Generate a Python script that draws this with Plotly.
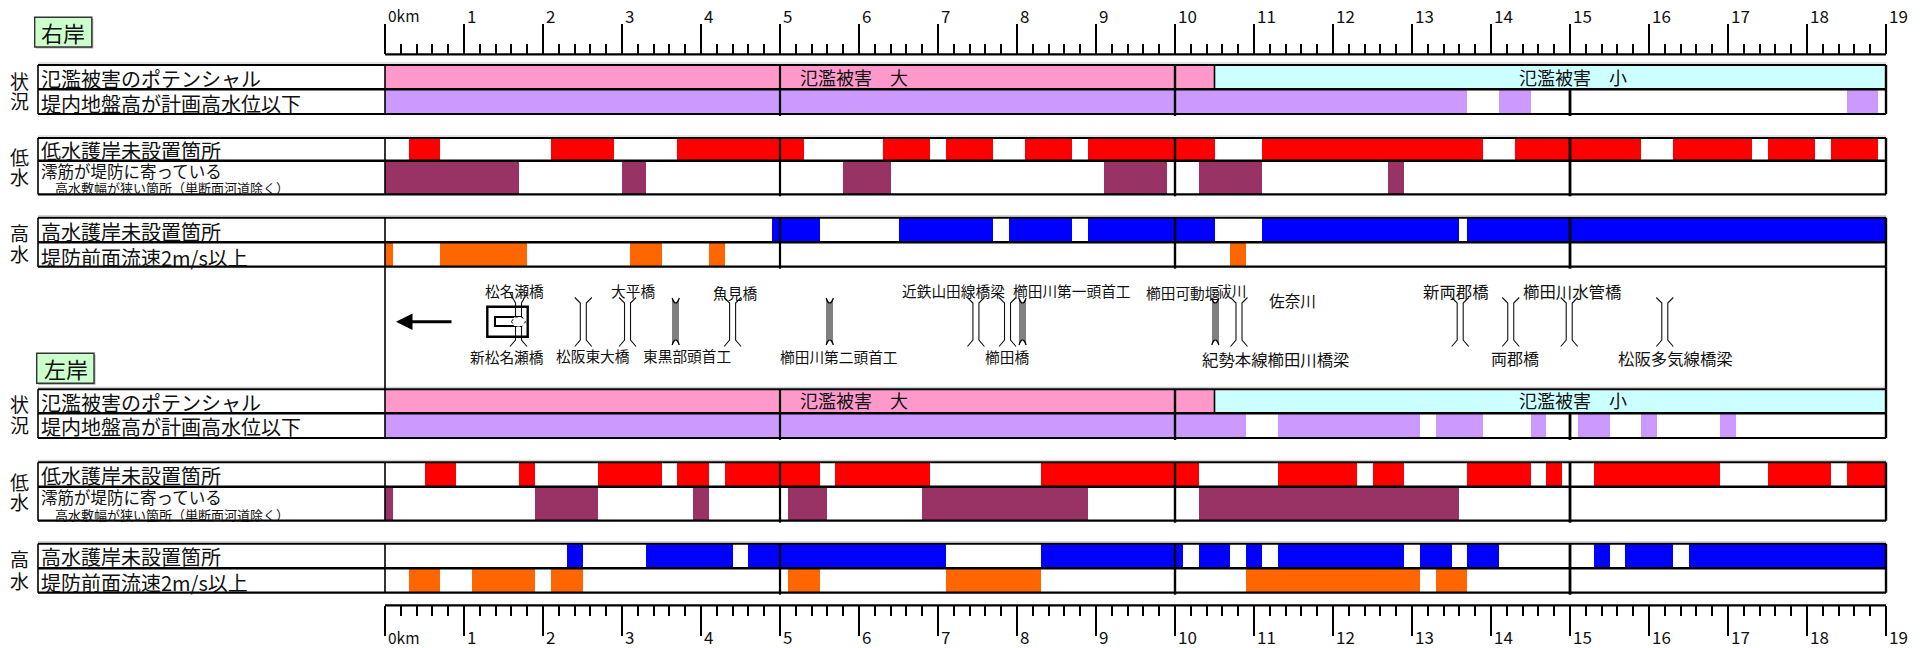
# Kushida river - levee condition strip chart (right bank / left bank)

import plotly.graph_objs as go

# ---- km intervals ----
R_POTENTIAL_BIG = [[0, 10.5]]
R_POTENTIAL_SMALL = [[10.5, 19]]
R_GROUND = [[0, 13.7], [14.1, 14.5], [18.5, 18.9]]
R_LOW_REVET = [[0.3, 0.7], [2.1, 2.9], [3.7, 5.3], [6.3, 6.9], [7.1, 7.7], [8.1, 8.7],
               [8.9, 10.5], [11.1, 13.9], [14.3, 15.9], [16.3, 17.3], [17.5, 18.1], [18.3, 18.9]]
R_CHANNEL = [[0, 1.7], [3.0, 3.3], [5.8, 6.4], [9.1, 9.9], [10.3, 11.1], [12.7, 12.9]]
R_HIGH_REVET = [[4.9, 5.5], [6.5, 7.7], [7.9, 8.7], [8.9, 10.5], [11.1, 13.6], [13.7, 19]]
R_VELOCITY = [[0, 0.1], [0.7, 1.8], [3.1, 3.5], [4.1, 4.3], [10.7, 10.9]]

L_POTENTIAL_BIG = [[0, 10.5]]
L_POTENTIAL_SMALL = [[10.5, 19]]
L_GROUND = [[0, 10.9], [11.3, 13.1], [13.3, 13.9], [14.5, 14.7], [15.1, 15.5], [15.9, 16.1], [16.9, 17.1]]
L_LOW_REVET = [[0.5, 0.9], [1.7, 1.9], [2.7, 3.5], [3.7, 4.1], [4.3, 5.5], [5.7, 6.9], [8.3, 10.3],
               [11.3, 12.3], [12.5, 12.9], [13.7, 14.5], [14.7, 14.9], [15.3, 16.9], [17.5, 18.3], [18.5, 19]]
L_CHANNEL = [[0, 0.1], [1.9, 2.7], [3.9, 4.1], [5.1, 5.6], [6.8, 8.9], [10.3, 13.6]]
L_HIGH_REVET = [[2.3, 2.5], [3.3, 4.4], [4.6, 7.1], [8.3, 10.1], [10.3, 10.7], [10.9, 11.1], [11.3, 12.9],
                [13.1, 13.5], [13.7, 14.1], [15.3, 15.5], [15.7, 16.3], [16.5, 19]]
L_VELOCITY = [[0.3, 0.7], [1.1, 1.9], [2.1, 2.5], [5.1, 5.5], [7.1, 8.3], [10.9, 13.1], [13.3, 13.7]]

MAJOR_TICKS = list(range(20))
MINOR_TICKS = [i / 5 for i in range(96) if i % 5 != 0]
TICK_TEXT = ["0km"] + [str(i) for i in range(1, 20)]

BRIDGE_KM = [1.69, 2.51, 3.07, 4.40, 7.48, 7.88, 10.81, 13.61, 14.25, 14.99, 16.20]
WEIR_KM = [3.68, 5.63, 8.07, 10.51]

BRIDGE_NAMES = ["松名瀬橋", "新松名瀬橋", "松阪東大橋", "大平橋", "魚見橋", "東黒部頭首工", "櫛田川第二頭首工",
                "近鉄山田線橋梁", "櫛田川第一頭首工", "櫛田橋", "櫛田可動堰", "祓川", "佐奈川", "紀勢本線櫛田川橋梁",
                "新両郡橋", "両郡橋", "櫛田川水管橋", "松阪多気線橋梁"]
BRIDGE_NAME_X = [514, 506.5, 592.5, 633, 735, 686.5, 839, 953.7, 1071.5, 1007.3, 1183.3, 1231.5, 1292, 1276,
                 1455.5, 1515, 1571.5, 1675]
BRIDGE_NAME_Y = [290, 356.7, 355.7, 290.7, 292.3, 355.7, 356, 290, 290, 356.7, 292.3, 290, 300, 359,
                 290.7, 358, 290.7, 357.7]
BRIDGE_NAME_SIZE = [14.7] * 12 + [15.7, 16.4, 16.4, 16, 16.4, 16.4]

PINK = "#FF99CC"
CYAN = "#CCFFFF"
PURPLE = "#CC99FF"
RED = "#FF0000"
PLUM = "#993366"
BLUE = "#0000FF"
ORANGE = "#FF6600"
FONT = "Noto Sans CJK JP"

# the page keeps its default 8px body margin, so the axes cover 8..1926 and 8..648 of the picture
W, H = 1926, 648
BODY = 8
# picture pixels -> km, ruler runs 0km=385px, 79px per km
PX0, PX_KM = 385, 79


def km(px):
    return (px - PX0) / PX_KM


def y_pos(px):
    return 1 - (px - BODY) / (H - BODY)


# (top, middle, bottom) pixels of the six framed bands
BANDS = [(65, 89.3, 114), (138, 160.7, 194.3), (217.7, 242.3, 266.7),
         (389.3, 413.3, 438), (462.3, 486.7, 520.7), (543.7, 568.3, 592.7)]

fig = go.Figure()


def add_row(intervals, y0, y1, color, axis="x"):
    fig.add_trace(go.Bar(
        orientation="h",
        base=[a for a, b in intervals],
        x=[b - a for a, b in intervals],
        y=[(y0 + y1) / 2] * len(intervals),
        width=y1 - y0,
        marker=dict(color=color, line=dict(width=0)),
        xaxis=axis, yaxis="y", showlegend=False, hoverinfo="skip",
    ))


for axis, bands, rows in [
    ("x", BANDS[:3], [R_POTENTIAL_BIG, R_POTENTIAL_SMALL, R_GROUND, R_LOW_REVET, R_CHANNEL, R_HIGH_REVET, R_VELOCITY]),
    ("x2", BANDS[3:], [L_POTENTIAL_BIG, L_POTENTIAL_SMALL, L_GROUND, L_LOW_REVET, L_CHANNEL, L_HIGH_REVET, L_VELOCITY]),
]:
    add_row(rows[0], bands[0][0], bands[0][1], PINK, axis)
    add_row(rows[1], bands[0][0], bands[0][1], CYAN, axis)
    add_row(rows[2], bands[0][1], bands[0][2], PURPLE, axis)
    add_row(rows[3], bands[1][0], bands[1][1], RED, axis)
    add_row(rows[4], bands[1][1], bands[1][2], PLUM, axis)
    add_row(rows[5], bands[2][0], bands[2][1], BLUE, axis)
    add_row(rows[6], bands[2][1], bands[2][2], ORANGE, axis)

# weirs: grey strip with cupped ends
WEIR_HALF = 3.6 / PX_KM
add_row([[c - WEIR_HALF, c + WEIR_HALF] for c in WEIR_KM], 299, 345, "#808080")
for c in WEIR_KM:
    fig.add_trace(go.Scatter(
        x=[c - WEIR_HALF, c, c + WEIR_HALF], y=[297, 303.5, 297], mode="none", fill="toself",
        fillcolor="white", showlegend=False, hoverinfo="skip"))
    fig.add_trace(go.Scatter(
        x=[c - WEIR_HALF, c, c + WEIR_HALF], y=[346, 339.5, 346], mode="none", fill="toself",
        fillcolor="white", showlegend=False, hoverinfo="skip"))
    fig.add_trace(go.Scatter(
        x=[c - WEIR_HALF, c - WEIR_HALF * 0.5, c, c + WEIR_HALF * 0.5, c + WEIR_HALF, None,
           c - WEIR_HALF, c - WEIR_HALF * 0.5, c, c + WEIR_HALF * 0.5, c + WEIR_HALF],
        y=[298, 302, 303, 302, 298, None, 345, 341, 340, 341, 345],
        mode="lines", line=dict(color="black", width=1.2, shape="spline"),
        showlegend=False, hoverinfo="skip"))

# bridges: pair of piers with flared ends
PIER = 3 / PX_KM
FLARE = 5.5 / PX_KM
for c in BRIDGE_KM:
    top = 293 if c == BRIDGE_KM[0] else 297.5
    fig.add_trace(go.Scatter(
        x=[c - PIER - FLARE, c - PIER, c - PIER, c - PIER - FLARE, None,
           c + PIER + FLARE, c + PIER, c + PIER, c + PIER + FLARE],
        y=[top, 303, 340, 346.5, None, top, 303, 340, 346.5],
        mode="lines", line=dict(color="#111111", width=1.1),
        showlegend=False, hoverinfo="skip"))

annotations = []


def label(text, px, y, size, anchor="left", color="#111111"):
    annotations.append(dict(
        x=km(px), y=y, xref="x", yref="y", text=text, showarrow=False, xanchor=anchor, yanchor="middle",
        borderpad=0, font=dict(family=FONT, size=size, color=color)))


def row_labels(y):
    # y: centre of every title in the left column
    label("氾濫被害のポテンシャル", 40, y[0], 20)
    label("堤内地盤高が計画高水位以下", 40, y[1], 20)
    label("低水護岸未設置箇所", 40, y[2], 20)
    label("澪筋が堤防に寄っている", 40, y[3], 16.5)
    label("高水敷幅が狭い箇所（単断面河道除く）", 54, y[4], 13)
    label("高水護岸未設置箇所", 40, y[5], 20)
    label("堤防前面流速2m/s以上", 40, y[6], 20)


row_labels([78, 103, 150, 171, 187.7, 231.7, 257])
row_labels([402.3, 426, 475, 497.3, 514, 556.7, 582])

for y, ch in [(80, "状"), (100, "況"), (156.7, "低"), (176.7, "水"), (232, "高"), (253, "水"),
              (403, "状"), (424, "況"), (481.7, "低"), (501.7, "水"), (558, "高"), (580, "水")]:
    label(ch, 19.5, y, 19, anchor="center")

label("氾濫被害　大", 799, 77, 18)
label("氾濫被害　小", 1518, 77, 18)
label("氾濫被害　大", 799, 400, 18)
label("氾濫被害　小", 1518, 400, 18)

label("右岸", 63, 31.5, 22, anchor="center")
label("左岸", 65.5, 368, 22, anchor="center")

for name, px, y, size in zip(BRIDGE_NAMES, BRIDGE_NAME_X, BRIDGE_NAME_Y, BRIDGE_NAME_SIZE):
    label(name, px, y, size, anchor="center")

# ruler numbers sit just right of each long tick
for tick, text in zip(MAJOR_TICKS, TICK_TEXT):
    size = 15.5 if text == "0km" else 17
    for y in (15, 636.7):
        annotations.append(dict(
            x=tick, y=y, xref="x", yref="y", text=text, showarrow=False, xanchor="left", yanchor="middle",
            xshift=2, borderpad=0, font=dict(family=FONT, size=size, color="#111111")))

# flow direction arrow
annotations.append(dict(
    x=km(396), y=321.7, ax=km(453), ay=321.7, xref="x", yref="y", axref="x", ayref="y", text="",
    showarrow=True, arrowhead=2, arrowsize=1.1, arrowwidth=3, arrowcolor="black"))

shapes = []


def line(x0, y0, x1, y1, width=2, color="black"):
    shapes.append(dict(type="line", xref="x", yref="y", x0=x0, y0=y0, x1=x1, y1=y1,
                       line=dict(color=color, width=width)))


for i, (top, mid, bot) in enumerate(BANDS):
    line(km(38), top - 2, 19, top - 2, 1, "#C8C8C8")
    line(km(38), top, 19, top, 2)
    line(km(38), mid, 19, mid, 2.6)
    line(km(38), bot, 19, bot, 2.2)
    line(km(38), top, km(38), bot, 1.6)
    line(0, top, 0, bot, 1.6)
    line(19, top, 19, bot, 2.4)
    for k, w in ((5, 2.2), (10, 2.4), (15, 2.8)):
        # the 15km post stops short of the potential row
        start = mid if (k == 15 and i in (0, 3)) else top
        line(k, start, k, bot + 2, w)
    if i in (0, 3):
        line(10.5, top, 10.5, mid, 1.6)

# map panel between the two banks
line(0, BANDS[2][2], 0, BANDS[3][0], 1.6)
line(19, BANDS[2][2], 19, BANDS[3][0], 2.4)

# rulers' base lines
line(0, 54.3, 19, 54.3, 2.2)
line(0, 605.3, 19, 605.3, 2.2)

# bank boxes
for x0, y0, x1, y1 in [(34.7, 17.3, 91.8, 47), (36.7, 353.3, 94, 383.3)]:
    shapes.insert(0, dict(type="rect", xref="x", yref="y", x0=km(x0) + 1.5 / PX_KM, y0=y0 + 1.5,
                          x1=km(x1) + 1.5 / PX_KM, y1=y1 + 1.5, fillcolor="#AAAAAA", line=dict(width=0), layer="below"))
    shapes.append(dict(type="rect", xref="x", yref="y", x0=km(x0), y0=y0, x1=km(x1), y1=y1,
                       fillcolor="#CCFFCC", line=dict(color="#333333", width=1.4), layer="below"))

# old water gate beside the Matsunase bridges
shapes.append(dict(type="rect", xref="x", yref="y", x0=km(487.3), y0=306.7, x1=km(527.7), y1=336.7,
                   line=dict(color="black", width=2.4)))
shapes.append(dict(type="rect", xref="x", yref="y", x0=km(495), y0=317, x1=km(520), y1=326,
                   line=dict(color="black", width=2)))
shapes.append(dict(type="path", xref="x", yref="y",
                   path="M {} 321.7 L {} 317 L {} 317 L {} 321.7 L {} 326.5 L {} 326.5 Z".format(
                       km(511.5), km(514.5), km(522), km(525.5), km(522), km(514.5)),
                   fillcolor="white", line=dict(color="black", width=1, dash="dot")))

tick_style = dict(
    tickmode="array", tickvals=MAJOR_TICKS, ticks="outside", ticklen=30, tickwidth=2.2, tickcolor="black",
    minor=dict(tickmode="array", tickvals=MINOR_TICKS, ticks="outside", ticklen=10, tickwidth=2, tickcolor="black"),
    showticklabels=False, showgrid=False, zeroline=False, showline=False,
    range=[km(BODY), km(W)], anchor="free", fixedrange=True,
)

fig.update_layout(
    width=W - BODY, height=H - BODY,
    margin=dict(l=0, r=0, t=0, b=0),
    paper_bgcolor="white", plot_bgcolor="white",
    barmode="overlay", bargap=0,
    showlegend=False,
    xaxis=dict(side="top", position=y_pos(54.3), **tick_style),
    xaxis2=dict(side="bottom", position=y_pos(605.3), overlaying="x", **tick_style),
    yaxis=dict(range=[H, BODY], visible=False, fixedrange=True),
    annotations=annotations,
    shapes=shapes,
)

fig.write_html("out.html")
